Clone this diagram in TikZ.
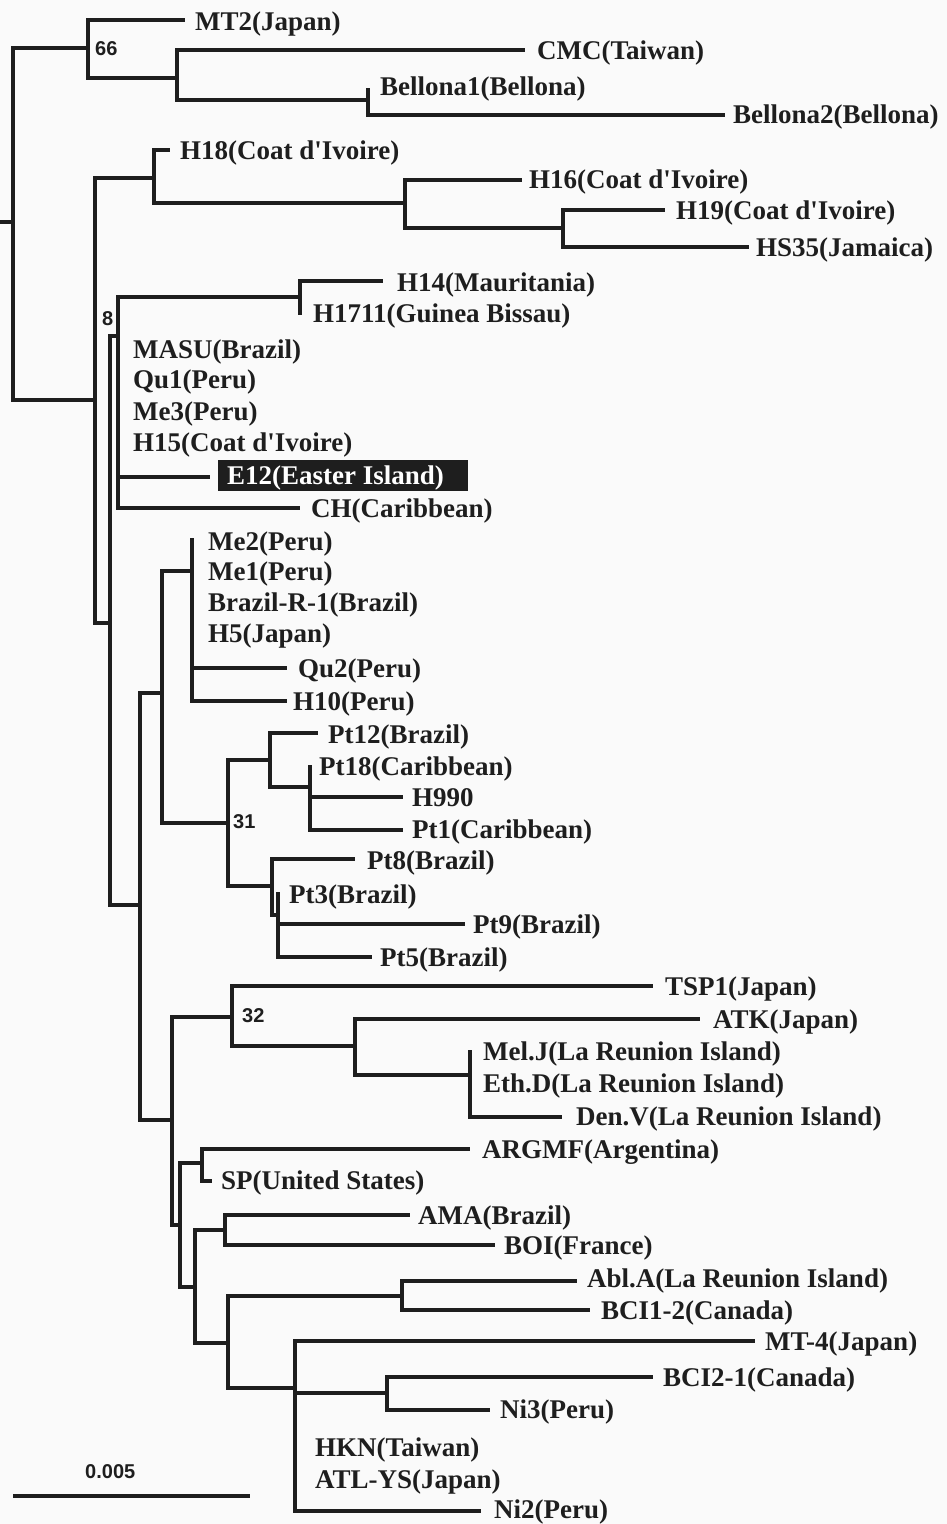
\documentclass[tikz,border=0pt]{standalone}
\usepackage{fontspec}
\newfontfamily\labf{Liberation Serif}
\newfontfamily\numf{Liberation Sans}
\definecolor{ink}{HTML}{1E1E1E}
\definecolor{paper}{HTML}{FAFAFA}
\tikzset{
  br/.style={draw=ink, line width=3.3pt},
  lab/.style={anchor=west, inner sep=0pt, text height=18pt, text depth=0pt, text=ink,
    font=\labf\bfseries\fontsize{27}{27}\selectfont},
  boot/.style={anchor=west, inner sep=0pt, text=ink, font=\numf\bfseries\fontsize{20}{20}\selectfont},
}
\begin{document}
\begin{tikzpicture}[x=1pt,y=-1pt]
\fill[paper] (0,0) rectangle (947,1524);
\useasboundingbox (0,0) rectangle (947,1524);

% ---------- internal nodes ----------
\coordinate (R0) at (0,222);
\coordinate (R)  at (13,222);
\coordinate (A)  at (88,48);
\coordinate (B)  at (177,78);
\coordinate (C)  at (368,100);
\coordinate (D)  at (95,400);
\coordinate (E)  at (154,178);
\coordinate (F)  at (405,203);
\coordinate (G)  at (563,228);
\coordinate (H)  at (110,623);
\coordinate (I)  at (118,336);
\coordinate (K)  at (300,297);
\coordinate (J)  at (140,905);
\coordinate (L)  at (162,693);
\coordinate (M)  at (192,571);
\coordinate (N)  at (228,823);
\coordinate (O)  at (270,760);
\coordinate (Q)  at (310,787);
\coordinate (P)  at (272,886);
\coordinate (S)  at (278,915);
\coordinate (T)  at (172,1120);
\coordinate (U)  at (232,1017);
\coordinate (W)  at (355,1046);
\coordinate (X)  at (470,1075);
\coordinate (V)  at (180,1225);
\coordinate (Y)  at (202,1163);
\coordinate (Z)  at (195,1287);
\coordinate (AA) at (225,1230);
\coordinate (AB) at (228,1343);
\coordinate (AC) at (402,1296);
\coordinate (AD) at (295,1388);
\coordinate (AE) at (387,1393);

% ---------- tips ----------
\coordinate (t-mt2)   at (185,20);
\coordinate (t-cmc)   at (525,50);
\coordinate (t-bel1)  at (368,88);
\coordinate (t-bel2)  at (725,115);
\coordinate (t-h18)   at (170,150);
\coordinate (t-h16)   at (522,180);
\coordinate (t-h19)   at (665,210);
\coordinate (t-hs35)  at (749,247);
\coordinate (t-h14)   at (383,281);
\coordinate (t-h1711) at (300,315);
\coordinate (t-e12)   at (210,477);
\coordinate (t-ch)    at (300,508);
\coordinate (t-me2)   at (192,538);
\coordinate (t-qu2)   at (287,668);
\coordinate (t-h10)   at (287,701);
\coordinate (t-pt12)  at (318,733);
\coordinate (t-pt18)  at (310,765);
\coordinate (t-h990)  at (403,797);
\coordinate (t-pt1)   at (403,830);
\coordinate (t-pt8)   at (355,859);
\coordinate (t-pt3)   at (278,892);
\coordinate (t-pt9)   at (465,924);
\coordinate (t-pt5)   at (372,957);
\coordinate (t-tsp1)  at (653,986);
\coordinate (t-atk)   at (700,1019);
\coordinate (t-melj)  at (470,1050);
\coordinate (t-denv)  at (562,1117);
\coordinate (t-argmf) at (470,1149);
\coordinate (t-sp)    at (212,1181);
\coordinate (t-ama)   at (410,1215);
\coordinate (t-boi)   at (495,1245);
\coordinate (t-abla)  at (577,1281);
\coordinate (t-bci12) at (590,1310);
\coordinate (t-mt4)   at (755,1341);
\coordinate (t-bci21) at (653,1377);
\coordinate (t-ni3)   at (490,1410);
\coordinate (t-ni2)   at (481,1511);

% ---------- branches ----------
\draw[br] (R0) -- (R);
\draw[br] (R) |- (A);   \draw[br] (R) |- (D);
\draw[br] (A) |- (t-mt2); \draw[br] (A) |- (B);
\draw[br] (B) |- (t-cmc); \draw[br] (B) |- (C);
\draw[br] (C) -- (t-bel1); \draw[br] (C) |- (t-bel2);

\draw[br] (D) |- (E);   \draw[br] (D) |- (H);
\draw[br] (E) |- (t-h18); \draw[br] (E) |- (F);
\draw[br] (F) |- (t-h16); \draw[br] (F) |- (G);
\draw[br] (G) |- (t-h19); \draw[br] (G) |- (t-hs35);

\draw[br] (H) |- (I);   \draw[br] (H) |- (J);
\draw[br] (I) |- (K);   \draw[br] (I) |- (t-e12); \draw[br] (I) |- (t-ch);
\draw[br] (K) |- (t-h14); \draw[br] (K) -- (t-h1711);

\draw[br] (J) |- (L);   \draw[br] (J) |- (T);
\draw[br] (L) |- (M);   \draw[br] (L) |- (N);
\draw[br] (M) -- (t-me2); \draw[br] (M) |- (t-qu2); \draw[br] (M) |- (t-h10);
\draw[br] (N) |- (O);   \draw[br] (N) |- (P);
\draw[br] (O) |- (t-pt12); \draw[br] (O) |- (Q);
\draw[br] (Q) -- (t-pt18); \draw[br] (Q) |- (t-h990); \draw[br] (Q) |- (t-pt1);
\draw[br] (P) |- (t-pt8); \draw[br] (P) |- (S);
\draw[br] (S) -- (t-pt3); \draw[br] (S) |- (t-pt9); \draw[br] (S) |- (t-pt5);

\draw[br] (T) |- (U);   \draw[br] (T) |- (V);
\draw[br] (U) |- (t-tsp1); \draw[br] (U) |- (W);
\draw[br] (W) |- (t-atk); \draw[br] (W) |- (X);
\draw[br] (X) -- (t-melj); \draw[br] (X) |- (t-denv);
\draw[br] (V) |- (Y);   \draw[br] (V) |- (Z);
\draw[br] (Y) |- (t-argmf); \draw[br] (Y) |- (t-sp);
\draw[br] (Z) |- (AA);  \draw[br] (Z) |- (AB);
\draw[br] (AA) |- (t-ama); \draw[br] (AA) |- (t-boi);
\draw[br] (AB) |- (AC); \draw[br] (AB) |- (AD);
\draw[br] (AC) |- (t-abla); \draw[br] (AC) |- (t-bci12);
\draw[br] (AD) |- (t-mt4); \draw[br] (AD) |- (AE); \draw[br] (AD) |- (t-ni2);
\draw[br] (AE) |- (t-bci21); \draw[br] (AE) |- (t-ni3);

% ---------- labels ----------
\node[lab] (l-mt2)   at (195,21)  {MT2(Japan)};
\node[lab] (l-cmc)   at (537,50)  {CMC(Taiwan)};
\node[lab] (l-bel1)  at (380,86)  {Bellona1(Bellona)};
\node[lab] (l-bel2)  at (733,114) {Bellona2(Bellona)};
\node[lab] (l-h18)   at (180,150) {H18(Coat d'Ivoire)};
\node[lab] (l-h16)   at (529,179) {H16(Coat d'Ivoire)};
\node[lab] (l-h19)   at (676,210) {H19(Coat d'Ivoire)};
\node[lab] (l-hs35)  at (756,247) {HS35(Jamaica)};
\node[lab] (l-h14)   at (397,282) {H14(Mauritania)};
\node[lab] (l-h1711) at (313,313) {H1711(Guinea Bissau)};
\node[lab] (l-masu)  at (133,349) {MASU(Brazil)};
\node[lab] (l-qu1)   at (133,379) {Qu1(Peru)};
\node[lab] (l-me3)   at (133,411) {Me3(Peru)};
\node[lab] (l-h15)   at (133,442) {H15(Coat d'Ivoire)};
\node[fill=ink, minimum width=250pt, minimum height=31pt, inner sep=0pt, anchor=west] (e12box) at (218,475) {};
\node[lab, text=white] (l-e12) at (227,475) {E12(Easter Island)};
\node[lab] (l-ch)    at (311,508) {CH(Caribbean)};
\node[lab] (l-me2)   at (208,541) {Me2(Peru)};
\node[lab] (l-me1)   at (208,571) {Me1(Peru)};
\node[lab] (l-brr1)  at (208,602) {Brazil-R-1(Brazil)};
\node[lab] (l-h5)    at (208,633) {H5(Japan)};
\node[lab] (l-qu2)   at (298,668) {Qu2(Peru)};
\node[lab] (l-h10)   at (293,701) {H10(Peru)};
\node[lab] (l-pt12)  at (328,734) {Pt12(Brazil)};
\node[lab] (l-pt18)  at (319,766) {Pt18(Caribbean)};
\node[lab] (l-h990)  at (412,797) {H990};
\node[lab] (l-pt1)   at (412,829) {Pt1(Caribbean)};
\node[lab] (l-pt8)   at (367,860) {Pt8(Brazil)};
\node[lab] (l-pt3)   at (289,894) {Pt3(Brazil)};
\node[lab] (l-pt9)   at (473,924) {Pt9(Brazil)};
\node[lab] (l-pt5)   at (380,957) {Pt5(Brazil)};
\node[lab] (l-tsp1)  at (665,986) {TSP1(Japan)};
\node[lab] (l-atk)   at (713,1019) {ATK(Japan)};
\node[lab] (l-melj)  at (483,1051) {Mel.J(La Reunion Island)};
\node[lab] (l-ethd)  at (483,1083) {Eth.D(La Reunion Island)};
\node[lab] (l-denv)  at (576,1116) {Den.V(La Reunion Island)};
\node[lab] (l-argmf) at (482,1149) {ARGMF(Argentina)};
\node[lab] (l-sp)    at (221,1180) {SP(United States)};
\node[lab] (l-ama)   at (418,1215) {AMA(Brazil)};
\node[lab] (l-boi)   at (504,1245) {BOI(France)};
\node[lab] (l-abla)  at (587,1278) {Abl.A(La Reunion Island)};
\node[lab] (l-bci12) at (601,1310) {BCI1-2(Canada)};
\node[lab] (l-mt4)   at (765,1341) {MT-4(Japan)};
\node[lab] (l-bci21) at (663,1377) {BCI2-1(Canada)};
\node[lab] (l-ni3)   at (500,1409) {Ni3(Peru)};
\node[lab] (l-hkn)   at (315,1447) {HKN(Taiwan)};
\node[lab] (l-atlys) at (315,1479) {ATL-YS(Japan)};
\node[lab] (l-ni2)   at (494,1509) {Ni2(Peru)};

% ---------- bootstrap values ----------
\node[boot] (b66) at (95,49)   {66};
\node[boot] (b8)  at (102,319) {8};
\node[boot] (b31) at (233,822) {31};
\node[boot] (b32) at (242,1016) {32};

% ---------- scale bar ----------
\coordinate (sb1) at (13,1496);
\coordinate (sb2) at (250,1496);
\draw[br] (sb1) -- (sb2);
\node[boot] (sblab) at (85,1472) {0.005};
\end{tikzpicture}
\end{document}
